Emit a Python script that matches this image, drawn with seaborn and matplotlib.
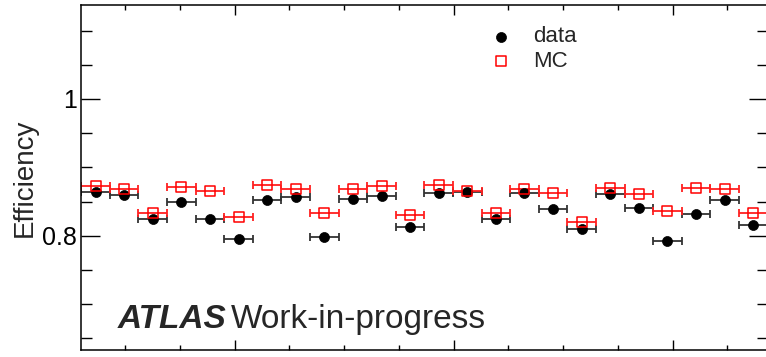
import numpy as np
import pandas as pd
import matplotlib
matplotlib.use("Agg")
import matplotlib.pyplot as plt
import seaborn as sns
from matplotlib.ticker import MultipleLocator, FuncFormatter, NullFormatter

# Binning in phi (24 equal bins)
phi_lo, phi_hi = -3.40, 2.866
n_bins = 24

# Efficiency per bin
eff_data = [0.8635, 0.8595, 0.824, 0.8497, 0.824, 0.7956, 0.8518, 0.8571,
            0.7981, 0.8533, 0.8585, 0.8132, 0.8629, 0.8644, 0.8244, 0.862,
            0.8395, 0.8102, 0.8606, 0.841, 0.7922, 0.8322, 0.8527, 0.8157]
eff_mc = [0.873, 0.8683, 0.8328, 0.8717, 0.8658, 0.8269, 0.8737, 0.8688,
          0.8337, 0.8688, 0.8727, 0.8303, 0.8742, 0.865, 0.8337, 0.8688,
          0.8629, 0.8205, 0.8702, 0.861, 0.8357, 0.8702, 0.8688, 0.8328]

series_labels = ["data", "MC"]
y_title = "Efficiency"
y_range = (0.633, 1.137)

edges = np.linspace(phi_lo, phi_hi, n_bins + 1)
centers = 0.5 * (edges[:-1] + edges[1:])
half_w = 0.5 * np.diff(edges)

df = pd.DataFrame({"phi": centers, "data": eff_data, "MC": eff_mc})

sns.set_theme(style="ticks")
plt.rcParams["font.family"] = ["Liberation Sans", "DejaVu Sans"]
plt.rcParams["axes.edgecolor"] = "black"
plt.rcParams["xtick.color"] = "black"
plt.rcParams["ytick.color"] = "black"

W, H = 766, 357
fig = plt.figure(figsize=(W / 100, H / 100), dpi=100)
ax = fig.add_axes([81.3 / W, 1 - 350 / H, 686.2 / W, 344.7 / H])

# horizontal bin-width bars
ax.errorbar(df["phi"], df["data"], xerr=half_w, fmt="none", ecolor="#333333",
            elinewidth=1.3, capsize=3, capthick=1.3, zorder=2)
ax.errorbar(df["phi"], df["MC"], xerr=half_w, fmt="none", ecolor="#ff2020",
            elinewidth=1.3, capsize=3, capthick=1.3, zorder=2)

# markers
sns.scatterplot(data=df, x="phi", y="data", marker="o", s=52, color="black",
                edgecolor="black", linewidth=0.5, label=series_labels[0],
                ax=ax, zorder=3)
sns.scatterplot(data=df, x="phi", y="MC", marker="s", s=52, facecolor="none",
                edgecolor="red", linewidth=1.1, label=series_labels[1],
                ax=ax, zorder=4)

ax.set_xlim(phi_lo, phi_hi)
ax.set_ylim(*y_range)

ax.xaxis.set_major_locator(MultipleLocator(2))
ax.xaxis.set_minor_locator(MultipleLocator(0.5))
ax.xaxis.set_major_formatter(NullFormatter())
ax.yaxis.set_major_locator(MultipleLocator(0.2))
ax.yaxis.set_minor_locator(MultipleLocator(0.05))
ax.yaxis.set_major_formatter(FuncFormatter(lambda v, p: f"{v:g}"))

ax.tick_params(axis="both", which="both", direction="in", top=True, right=True,
               width=1.0, color="black")
ax.tick_params(axis="y", which="major", length=13.7, labelsize=18, pad=3)
ax.tick_params(axis="y", which="minor", length=7.9)
ax.tick_params(axis="x", which="major", length=7.2, labelbottom=False)
ax.tick_params(axis="x", which="minor", length=3.6)
for sp in ax.spines.values():
    sp.set_linewidth(1.1)
    sp.set_color("black")

ax.set_xlabel("")
ax.set_ylabel(y_title, fontsize=20)
ax.yaxis.set_label_coords(-0.064, 0.5)

ax.legend(loc="upper left", bbox_to_anchor=(0.566, 0.997), frameon=False,
          fontsize=16, handlelength=1.0, handletextpad=0.95,
          labelspacing=0.15, borderpad=0.4)

fig.text(118 / W, 1 - 328 / H, "ATLAS", fontsize=24, fontweight="bold",
         fontstyle="italic", va="baseline", ha="left")
fig.text(231 / W, 1 - 328 / H, "Work-in-progress", fontsize=24,
         va="baseline", ha="left")

fig.savefig("out.png", dpi=100)
